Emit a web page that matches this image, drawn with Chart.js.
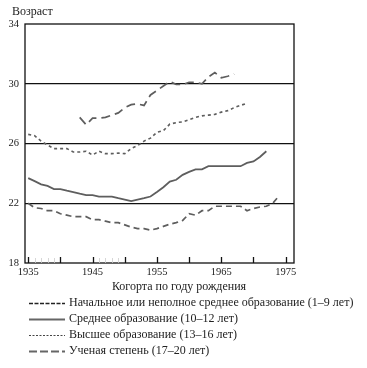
<!DOCTYPE html>
<html>
<head>
<meta charset="utf-8">
<script src="https://cdn.jsdelivr.net/npm/chart.js@4.4.1/dist/chart.umd.min.js"></script>
<style>
  html, body { margin: 0; padding: 0; background: #fff; }
  #wrap { width: 367px; height: 368px; position: relative; }
</style>
</head>
<body>
<div id="wrap"><canvas id="ageChart" width="367" height="368"></canvas></div>
<script>
// age at event by birth cohort, four education groups
var seriesNames = [
  "Начальное или неполное среднее образование (1–9 лет)",
  "Среднее образование (10–12 лет)",
  "Высшее образование (13–16 лет)",
  "Ученая степень (17–20 лет)"
];

var primaryYears = [1935,1936,1937,1938,1939,1940,1941,1942,1943,1944,1945,1946,1947,1948,1949,1950,1951,1952,1953,1954,
  1955,1956,1957,1958,1959,1960,1961,1962,1963,1964,1965,1966,1967,1968,1969,1970,1971,1972,1973,1974];
var primaryAge = [22.0,21.7,21.65,21.5,21.5,21.3,21.2,21.1,21.1,21.1,20.9,20.9,20.8,20.7,20.7,20.55,20.4,20.3,20.3,20.2,
  20.3,20.45,20.6,20.7,20.85,21.3,21.2,21.5,21.5,21.8,21.8,21.8,21.8,21.8,21.5,21.65,21.75,21.8,22.0,22.5];

var secondaryYears = [1935,1936,1937,1938,1939,1940,1941,1942,1943,1944,1945,1946,1947,1948,1949,1950,1951,1952,1953,1954,
  1955,1956,1957,1958,1959,1960,1961,1962,1963,1964,1965,1966,1967,1968,1969,1970,1971,1972];
var secondaryAge = [23.68,23.48,23.27,23.16,22.95,22.95,22.84,22.75,22.64,22.55,22.55,22.45,22.45,22.45,22.34,22.25,22.14,22.25,22.34,22.45,
  22.75,23.07,23.45,23.57,23.9,24.1,24.27,24.27,24.48,24.48,24.48,24.48,24.48,24.48,24.7,24.8,25.1,25.48];

var higherYears = [1935,1936,1937,1938,1939,1940,1941,1942,1943,1944,1945,1946,1947,1948,1949,1950,1951,1952,1953,1954,
  1955,1956,1957,1958,1959,1960,1961,1962,1963,1964,1965,1966,1967,1968,1969];
var higherAge = [26.61,26.52,26.16,25.9,25.66,25.66,25.66,25.43,25.43,25.48,25.23,25.48,25.32,25.32,25.36,25.32,25.66,25.86,26.16,26.36,
  26.75,26.86,27.3,27.4,27.45,27.6,27.75,27.85,27.9,27.95,28.1,28.2,28.4,28.55,28.7];

var degreeYears = [1943,1944,1945,1946,1947,1948,1949,1950,1951,1952,1953,1954,1955,1956,1957,1958,1959,1960,1961,1962,
  1963,1964,1965,1966,1967];
var degreeAge = [27.75,27.25,27.7,27.7,27.75,27.9,28.05,28.4,28.6,28.65,28.55,29.25,29.55,29.85,30.15,29.95,29.95,30.1,30.1,30.0,
  30.45,30.75,30.4,30.5,30.65];

var yTicks = [18, 22, 26, 30, 34];
var xTicks = [1935, 1945, 1955, 1965, 1975];
var xMajor = [1935, 1940, 1945, 1950, 1955, 1960, 1965, 1970, 1975];
var xMinor = [1936, 1937, 1938, 1939, 1946, 1947, 1948, 1949];

function pairs(xs, ys) {
  return xs.map(function (x, i) { return { x: x, y: ys[i] }; });
}

var serif = "'Liberation Serif', 'Times New Roman', serif";

// legend styles (sample lines differ a bit from plotted ones)
var legendStyles = [
  { color: '#222', dash: [4, 1.5], width: 1.6 },
  { color: '#666', dash: [], width: 1.8 },
  { color: '#444', dash: [2, 1.5], width: 1.2 },
  { color: '#666', dash: [8, 3], width: 1.8 }
];

var decorPlugin = {
  id: 'decor',
  afterDraw: function (chart) {
    var ctx = chart.ctx;
    var a = chart.chartArea;
    var xs = chart.scales.x;
    ctx.save();
    // frame
    ctx.strokeStyle = '#111';
    ctx.lineWidth = 1.3;
    ctx.setLineDash([]);
    ctx.strokeRect(a.left, a.top, a.right - a.left, a.bottom - a.top);
    // tick marks pointing up into the plot
    xMajor.forEach(function (v) {
      var px = Math.round(xs.getPixelForValue(v)) + 0.5;
      ctx.beginPath();
      ctx.moveTo(px, a.bottom);
      ctx.lineTo(px, a.bottom - 6);
      ctx.stroke();
    });
    ctx.strokeStyle = '#ccc';
    ctx.lineWidth = 0.8;
    xMinor.forEach(function (v) {
      var px = Math.round(xs.getPixelForValue(v)) + 0.5;
      ctx.beginPath();
      ctx.moveTo(px, a.bottom);
      ctx.lineTo(px, a.bottom - 5);
      ctx.stroke();
    });
    // titles
    ctx.fillStyle = '#222';
    ctx.font = '12px ' + serif;
    ctx.textBaseline = 'middle';
    ctx.textAlign = 'left';
    ctx.fillText('Возраст', 12, 12);
    ctx.textAlign = 'center';
    ctx.fillText('Когорта по году рождения', 179, 287);
    // legend
    ctx.textAlign = 'left';
    var rows = [303, 319, 335, 351];
    seriesNames.forEach(function (name, i) {
      var st = legendStyles[i];
      ctx.strokeStyle = st.color;
      ctx.lineWidth = st.width;
      ctx.setLineDash(st.dash);
      ctx.beginPath();
      ctx.moveTo(29, rows[i] + 0.5);
      ctx.lineTo(65, rows[i] + 0.5);
      ctx.stroke();
      ctx.setLineDash([]);
      ctx.fillStyle = '#222';
      ctx.fillText(name, 69, rows[i]);
    });
    ctx.restore();
  }
};

var lineColor = '#5e5e5e';

new Chart(document.getElementById('ageChart'), {
  type: 'line',
  data: {
    datasets: [
      { label: seriesNames[0], data: pairs(primaryYears, primaryAge), borderColor: lineColor, borderWidth: 1.7, borderDash: [6, 4] },
      { label: seriesNames[1], data: pairs(secondaryYears, secondaryAge), borderColor: lineColor, borderWidth: 1.8, borderDash: [] },
      { label: seriesNames[2], data: pairs(higherYears, higherAge), borderColor: lineColor, borderWidth: 1.6, borderDash: [3, 3] },
      { label: seriesNames[3], data: pairs(degreeYears, degreeAge), borderColor: lineColor, borderWidth: 1.7, borderDash: [9, 5] }
    ]
  },
  options: {
    responsive: false,
    animation: false,
    events: [],
    elements: { point: { radius: 0 }, line: { tension: 0, fill: false } },
    layout: { padding: { left: 0, top: 24, right: 73, bottom: 0 } },
    plugins: { legend: { display: false }, tooltip: { enabled: false }, title: { display: false } },
    scales: {
      x: {
        type: 'linear',
        min: 1934.5,
        max: 1976.3,
        afterBuildTicks: function (scale) {
          scale.ticks = xTicks.map(function (v) { return { value: v }; });
        },
        afterFit: function (scale) { scale.height = 105; },
        grid: { display: false, drawTicks: false },
        border: { display: false },
        ticks: {
          autoSkip: false,
          maxRotation: 0,
          padding: 3,
          color: '#222',
          font: { family: serif, size: 10.5 },
          callback: function (v) { return String(v); }
        }
      },
      y: {
        min: 18,
        max: 34,
        afterBuildTicks: function (scale) {
          scale.ticks = yTicks.map(function (v) { return { value: v }; });
        },
        afterFit: function (scale) { scale.width = 25; },
        grid: {
          drawTicks: false,
          color: function (c) { return (c.tick && (c.tick.value === 18 || c.tick.value === 34)) ? 'rgba(0,0,0,0)' : '#111'; },
          lineWidth: 1.3
        },
        border: { display: false },
        ticks: {
          padding: 6,
          color: '#222',
          font: { family: serif, size: 10.5 }
        }
      }
    }
  },
  plugins: [decorPlugin]
});
</script>
</body>
</html>
